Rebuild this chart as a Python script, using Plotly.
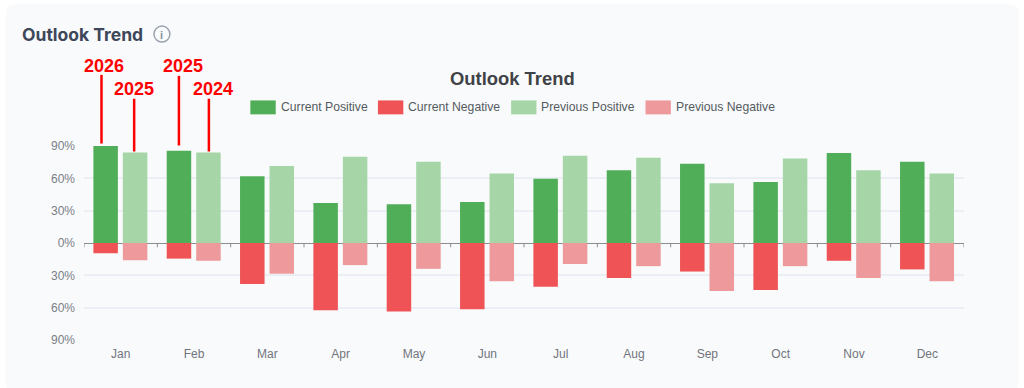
import plotly.graph_objects as go

months = ["Jan","Feb","Mar","Apr","May","Jun","Jul","Aug","Sep","Oct","Nov","Dec"]
current_positive = [90,85.5,62,37,36,38,59.5,67.5,73.5,56.5,83.5,75.5]
current_negative = [-9.5,-14.5,-38,-62.5,-63.5,-61.5,-40.5,-32.5,-26.5,-43.5,-16.5,-24.5]
previous_positive = [84,84,71.5,80,75.5,64.5,81,79,55.5,78.5,67.5,64.5]
previous_negative = [-16,-16.5,-28.5,-20.5,-24,-35.5,-19.5,-21.5,-44.5,-21.5,-32.5,-35.5]
y_ticks = [-90,-60,-30,0,30,60,90]
y_labels = ["90%","60%","30%","0%","30%","60%","90%"]

W, H = 1024, 388
ML, MR, MT, MB = 83.5, 59.7, 145.5, 47.5
PW, PH = W - ML - MR, H - MT - MB
GREEN, RED, LGREEN, LRED = "#50AE58", "#EF5355", "#A6D6A8", "#EE9A9C"
px = lambda x: (x - ML) / PW
py = lambda y: (H - MB - y) / PH

fig = go.Figure()
idx = list(range(12))
bar_w, off_a, off_b = 0.334, -0.372, 0.03
for name, vals, col, off in [
    ("Current Positive", current_positive, GREEN, off_a),
    ("Current Negative", current_negative, RED, off_a),
    ("Previous Positive", previous_positive, LGREEN, off_b),
    ("Previous Negative", previous_negative, LRED, off_b)]:
    fig.add_trace(go.Bar(x=idx, y=vals, name=name, width=bar_w, offset=off,
                         marker=dict(color=col, line_width=0), showlegend=False))

shapes, ann = [], []
def text(x, y, s, size, color, anchor="left", family="Liberation Sans", bold=False):
    ann.append(dict(xref="paper", yref="paper", x=px(x), y=py(y), text=f"<b>{s}</b>" if bold else s,
                    showarrow=False, xanchor=anchor, yanchor="middle", borderpad=0, borderwidth=0,
                    font=dict(size=size, color=color, family=family)))

# card
l, t, r, b = px(5), py(3), px(1019), py(392)
cx, cy = 10 / PW, 10 / PH
shapes.append(dict(type="path", xref="paper", yref="paper", layer="below", line_width=0, fillcolor="#F9FAFC",
    path=f"M{l+cx},{t} L{r-cx},{t} Q{r},{t} {r},{t-cy} L{r},{b+cy} Q{r},{b} {r-cx},{b} "
         f"L{l+cx},{b} Q{l},{b} {l},{b+cy} L{l},{t-cy} Q{l},{t} {l+cx},{t} Z"))

# headings
text(21.5, 33, "Outlook Trend", 17.5, "#3D4759", family="Inter", bold=True)
text(512.5, 77.5, "Outlook Trend", 18.4, "#3F4246", anchor="center", bold=True)
shapes.append(dict(type="circle", xref="paper", yref="paper", x0=px(153.5), x1=px(169.5), y0=py(41), y1=py(25),
                   line=dict(color="#9CA3B0", width=1.5)))
text(161.5, 33.5, "i", 11, "#8A92A0", anchor="center", bold=True)

# legend
for x0, name, col in [(250, "Current Positive", GREEN), (377.7, "Current Negative", RED),
                      (511, "Previous Positive", LGREEN), (645.5, "Previous Negative", LRED)]:
    shapes.append(dict(type="rect", xref="paper", yref="paper", x0=px(x0), x1=px(x0 + 25.4),
                       y0=py(113.7), y1=py(99.7), fillcolor=col, line_width=0))
    text(x0 + 30.4, 106.5, name, 12.2, "#555A60")

# red callouts
for lx, y0, y1, tx, ty, s in [(101, 74, 143, 104, 65.5, "2026"), (133.7, 98, 151, 133.5, 88, "2025"),
                              (178.5, 75, 145, 182.5, 65.5, "2025"), (208.5, 98, 151, 212.5, 88, "2024")]:
    shapes.append(dict(type="line", xref="paper", yref="paper", x0=px(lx), x1=px(lx), y0=py(y0), y1=py(y1),
                       line=dict(color="#FF0000", width=2.5)))
    text(tx, ty, s, 18, "#FF0000", anchor="center", bold=True)

# category-edge ticks on zero line
for i in range(13):
    shapes.append(dict(type="line", xref="x", yref="y", x0=i - 0.5, x1=i - 0.5, y0=0, y1=-4,
                       line=dict(color="#8A8D92", width=1), layer="above"))

fig.update_layout(
    width=W, height=H, autosize=False, paper_bgcolor="#FFFFFF", plot_bgcolor="rgba(0,0,0,0)",
    barmode="overlay", showlegend=False, shapes=shapes, annotations=ann,
    margin=dict(l=ML, r=MR, t=MT, b=MB, pad=0),
    font=dict(family="Liberation Sans", size=12, color="#7A7F87"),
    xaxis=dict(range=[-0.5, 11.5], tickmode="array", tickvals=idx, ticktext=months, showgrid=False,
               zeroline=False, ticks="", showline=False, tickfont=dict(size=12, color="#71757C"),
               ticklabelstandoff=5),
    yaxis=dict(range=[-90, 90], tickmode="array", tickvals=y_ticks, ticktext=y_labels, gridcolor="#EBEEF4",
               gridwidth=1.5, zeroline=True, zerolinecolor="#8A8D92", zerolinewidth=1.2, ticks="",
               showline=False, tickfont=dict(size=12, color="#7A7F87"), ticklabelstandoff=8),
)
fig.write_html("out.html", config=dict(displayModeBar=False),
               post_script="document.body.style.margin='0';document.body.style.overflow='hidden';")
